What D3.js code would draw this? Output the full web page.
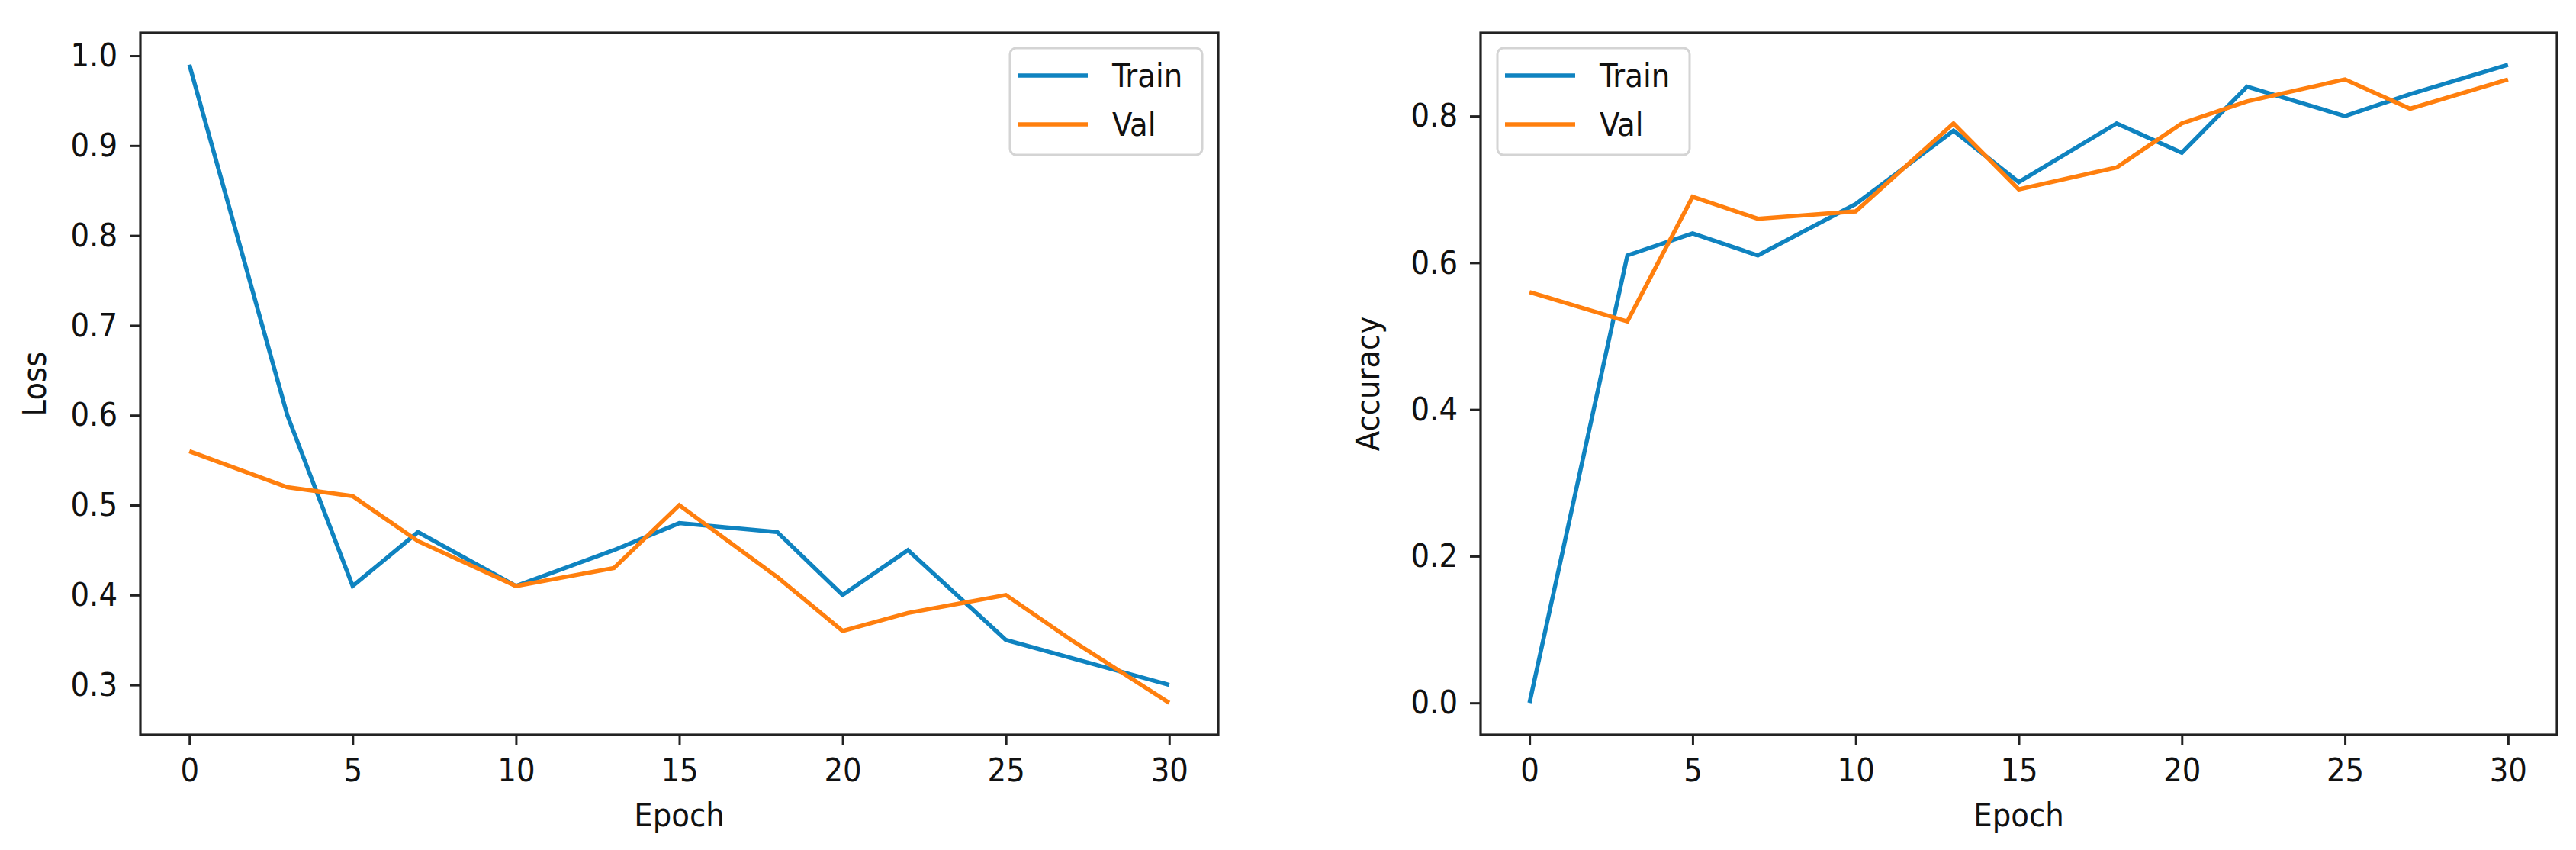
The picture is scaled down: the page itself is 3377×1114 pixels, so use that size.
<!DOCTYPE html>
<html>
<head>
<meta charset="utf-8">
<script src="https://cdn.jsdelivr.net/npm/d3@7"></script>
<style>
  body { margin: 0; background: #fff; }
  svg text { font-family: "DejaVu Sans Condensed", "DejaVu Sans", sans-serif; font-stretch: condensed; fill: #111; }
</style>
</head>
<body>
<svg id="chart"></svg>
<script>
const epochs = [0, 3, 5, 7, 10, 13, 15, 18, 20, 22, 25, 27, 30];
const lossTrain = [0.99, 0.60, 0.41, 0.47, 0.41, 0.45, 0.48, 0.47, 0.40, 0.45, 0.35, 0.33, 0.30];
const lossVal = [0.56, 0.52, 0.51, 0.46, 0.41, 0.43, 0.50, 0.42, 0.36, 0.38, 0.40, 0.35, 0.28];
const accTrain = [0.00, 0.61, 0.64, 0.61, 0.68, 0.78, 0.71, 0.79, 0.75, 0.84, 0.80, 0.83, 0.87];
const accVal = [0.56, 0.52, 0.69, 0.66, 0.67, 0.79, 0.70, 0.73, 0.79, 0.82, 0.85, 0.81, 0.85];
const xTicks = [0, 5, 10, 15, 20, 25, 30];
const lossTicks = [0.3, 0.4, 0.5, 0.6, 0.7, 0.8, 0.9, 1.0];
const accTicks = [0.0, 0.2, 0.4, 0.6, 0.8];
const seriesNames = ["Train", "Val"];
const colors = ["#0f83c0", "#ff7f0e"];

const W = 3377, H = 1114;
const FONT = 43;
const svg = d3.select("#chart").attr("width", W).attr("height", H);

// matplotlib style 5% padding around the data
function padded(values) {
    const [lo, hi] = d3.extent(values);
    const m = (hi - lo) * 0.05;
    return [lo - m, hi + m];
}

function panel(box, series, yTicks, yLabel, yLabelX, legendBox) {
    const g = svg.append("g");
    const x = d3.scaleLinear().domain(padded(epochs)).range([box.left, box.right]);
    const y = d3.scaleLinear().domain(padded(series.flat())).range([box.bottom, box.top]);

    const line = d3.line()
        .x((d, i) => x(epochs[i]))
        .y(d => y(d));

    series.forEach((s, k) => {
        g.append("path")
            .datum(s)
            .attr("fill", "none")
            .attr("stroke", colors[k])
            .attr("stroke-width", 5.5)
            .attr("stroke-linejoin", "miter")
            .attr("d", line);
    });

    const xAxis = g.append("g")
        .attr("transform", `translate(0, ${box.bottom})`)
        .call(d3.axisBottom(x).tickValues(xTicks).tickFormat(d3.format("d")).tickSize(14).tickPadding(16));
    const yAxis = g.append("g")
        .attr("transform", `translate(${box.left}, 0)`)
        .call(d3.axisLeft(y).tickValues(yTicks).tickFormat(d3.format(".1f")).tickSize(14).tickPadding(16));
    [xAxis, yAxis].forEach(a => {
        a.select(".domain").remove();
        a.selectAll(".tick line").attr("stroke", "#222").attr("stroke-width", 3);
        a.selectAll(".tick text").attr("font-size", FONT).attr("fill", "#111")
            .style("font-family", null);
        a.attr("font-family", null).attr("font-size", null);
    });

    g.append("rect")
        .attr("x", box.left).attr("y", box.top)
        .attr("width", box.right - box.left).attr("height", box.bottom - box.top)
        .attr("fill", "none").attr("stroke", "#222").attr("stroke-width", 3.2);

    g.append("text")
        .attr("x", (box.left + box.right) / 2)
        .attr("y", 1083)
        .attr("text-anchor", "middle")
        .attr("font-size", FONT)
        .text("Epoch");

    g.append("text")
        .attr("transform", `translate(${yLabelX}, ${(box.top + box.bottom) / 2}) rotate(-90)`)
        .attr("text-anchor", "middle")
        .attr("font-size", FONT)
        .text(yLabel);

    const leg = g.append("g").attr("transform", `translate(${legendBox.x}, ${legendBox.y})`);
    leg.append("rect")
        .attr("width", 252).attr("height", 140).attr("rx", 8)
        .attr("fill", "#fff").attr("fill-opacity", 0.8)
        .attr("stroke", "#d4d4d4").attr("stroke-width", 3);
    seriesNames.forEach((name, k) => {
        const cy = 36 + k * 64;
        leg.append("line")
            .attr("x1", 10).attr("x2", 102).attr("y1", cy).attr("y2", cy)
            .attr("stroke", colors[k]).attr("stroke-width", 5.5);
        leg.append("text")
            .attr("x", 134).attr("y", cy + 15)
            .attr("font-size", FONT)
            .text(name);
    });
}

panel({left: 184, right: 1597, top: 43, bottom: 963},
      [lossTrain, lossVal], lossTicks, "Loss", 60, {x: 1324, y: 63});
panel({left: 1941, right: 3352, top: 43, bottom: 963},
      [accTrain, accVal], accTicks, "Accuracy", 1808, {x: 1963, y: 63});
</script>
</body>
</html>
